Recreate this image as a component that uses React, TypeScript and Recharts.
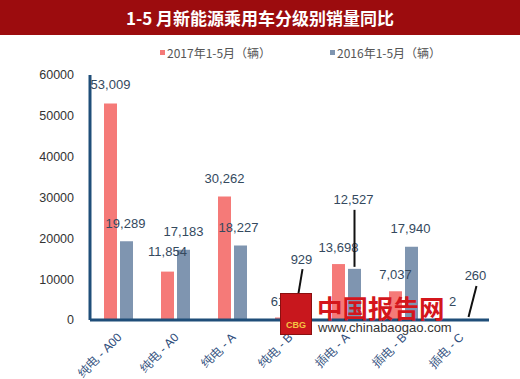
import { BarChart, Bar, XAxis, YAxis, LabelList } from 'recharts'

const categories = ['纯电 - A00', '纯电 - A0', '纯电 - A', '纯电 - B', '插电 - A', '插电 - B', '插电 - C']
const sales2017 = [53009, 11854, 30262, 615, 13698, 7037, 2]
const sales2016 = [19289, 17183, 18227, 929, 12527, 17940, 260]
const yTicks = [0, 10000, 20000, 30000, 40000, 50000, 60000]

const data = categories.map((name, i) => ({ name, y2017: sales2017[i], y2016: sales2016[i] }))

// label offsets from the bar top, plus optional leader line
const pinkLabelPos = [
  { dx: 0, dy: -19 }, { dx: 0, dy: -20 }, { dx: 0, dy: -18 }, { dx: 0, dy: -16 },
  { dx: 0, dy: -17 }, { dx: 0, dy: -17 }, { dx: 0, dy: -18 },
]
const bluePos = [
  { dx: -1, dy: -18 }, { dx: 0, dy: -18 }, { dx: -2, dy: -18 }, { dx: 4, dy: -57, line: 30 },
  { dx: -1, dy: -69, line: 57 }, { dx: -1, dy: -18 }, { dx: 7, dy: -43, line: 31 },
]

const PINK = '#f57a78'
const BLUE = '#7f95b0'
const AXIS = '#1f4e79'

function makeLabel(pos: { dx: number; dy: number; line?: number }[]) {
  return (props: any) => {
    const { x, y, width, index, value } = props
    const p = pos[index]
    const cx = x + width / 2 + p.dx
    const cy = y + p.dy
    return (
      <g>
        {p.line ? (
          <line x1={cx + 1} y1={cy + 10} x2={x + width / 2} y2={cy + 10 + p.line} stroke="#111" strokeWidth={2} />
        ) : null}
        <text x={cx} y={cy} textAnchor="middle" dominantBaseline="central" fontSize={13} fill="#34495e">
          {Number(value).toLocaleString('en-US')}
        </text>
      </g>
    )
  }
}

function XTick(props: any) {
  const { x, y, payload } = props
  const tx = x + 4
  const ty = y + 10
  return (
    <text x={tx} y={ty} textAnchor="end" fontSize={12} fill="#2e4d7b" transform={`rotate(-45 ${tx} ${ty})`}>
      {payload.value}
    </text>
  )
}

export default function App() {
  return (
    <div style={{ position: 'absolute', left: 0, top: 0, width: 520, height: 379, background: '#fff', fontFamily: '"Liberation Sans", Arial, sans-serif', overflow: 'hidden' }}>
      <div style={{ position: 'absolute', left: 0, top: 0, width: 520, height: 35, background: '#9c0c0e', color: '#fff', fontWeight: 'bold', fontSize: 17, lineHeight: '35px', textAlign: 'center', fontFamily: '"Noto Sans CJK SC", sans-serif' }}>
        1-5 月新能源乘用车分级别销量同比
      </div>
      <div style={{ position: 'absolute', top: 44, left: 160, fontSize: 12, color: '#555', display: 'flex', alignItems: 'center', fontFamily: '"Noto Sans CJK SC", sans-serif' }}>
        <span style={{ width: 5, height: 5, background: PINK, marginRight: 2 }} />2017年1-5月（辆）
      </div>
      <div style={{ position: 'absolute', top: 44, left: 330, fontSize: 12, color: '#555', display: 'flex', alignItems: 'center', fontFamily: '"Noto Sans CJK SC", sans-serif' }}>
        <span style={{ width: 5, height: 5, background: BLUE, marginRight: 2 }} />2016年1-5月（辆）
      </div>
      <BarChart width={520} height={379} data={data} margin={{ top: 75, right: 31, bottom: 0, left: 0 }} barSize={13} barGap={3}>
        <XAxis dataKey="name" height={59} interval={0} tick={<XTick />} tickLine={false} axisLine={{ stroke: AXIS, strokeWidth: 3 }} />
        <YAxis width={90} domain={[0, 60000]} ticks={yTicks} tickLine={false} tickMargin={10} axisLine={{ stroke: AXIS, strokeWidth: 3 }} tick={{ fontSize: 12.5, fill: '#333' }} />
        <Bar dataKey="y2017" fill={PINK} isAnimationActive={false}>
          <LabelList dataKey="y2017" content={makeLabel(pinkLabelPos)} />
        </Bar>
        <Bar dataKey="y2016" fill={BLUE} isAnimationActive={false}>
          <LabelList dataKey="y2016" content={makeLabel(bluePos)} />
        </Bar>
      </BarChart>
      {/* watermark */}
      <div style={{ position: 'absolute', left: 280, top: 293, width: 30, height: 40, background: '#c8171d', border: '1px solid #8a1010', color: '#f5c342', fontSize: 9, fontWeight: 'bold', textAlign: 'center', lineHeight: '62px' }}>CBG</div>
      <div style={{ position: 'absolute', left: 317, top: 291, fontSize: 25.5, fontWeight: 'bold', color: '#d4161c', lineHeight: '32px', fontFamily: '"Noto Sans CJK SC", sans-serif' }}>中国报告网</div>
      <div style={{ position: 'absolute', left: 318, top: 320, fontSize: 13, color: '#333', lineHeight: '16px' }}>www.chinabaogao.com</div>
    </div>
  )
}
